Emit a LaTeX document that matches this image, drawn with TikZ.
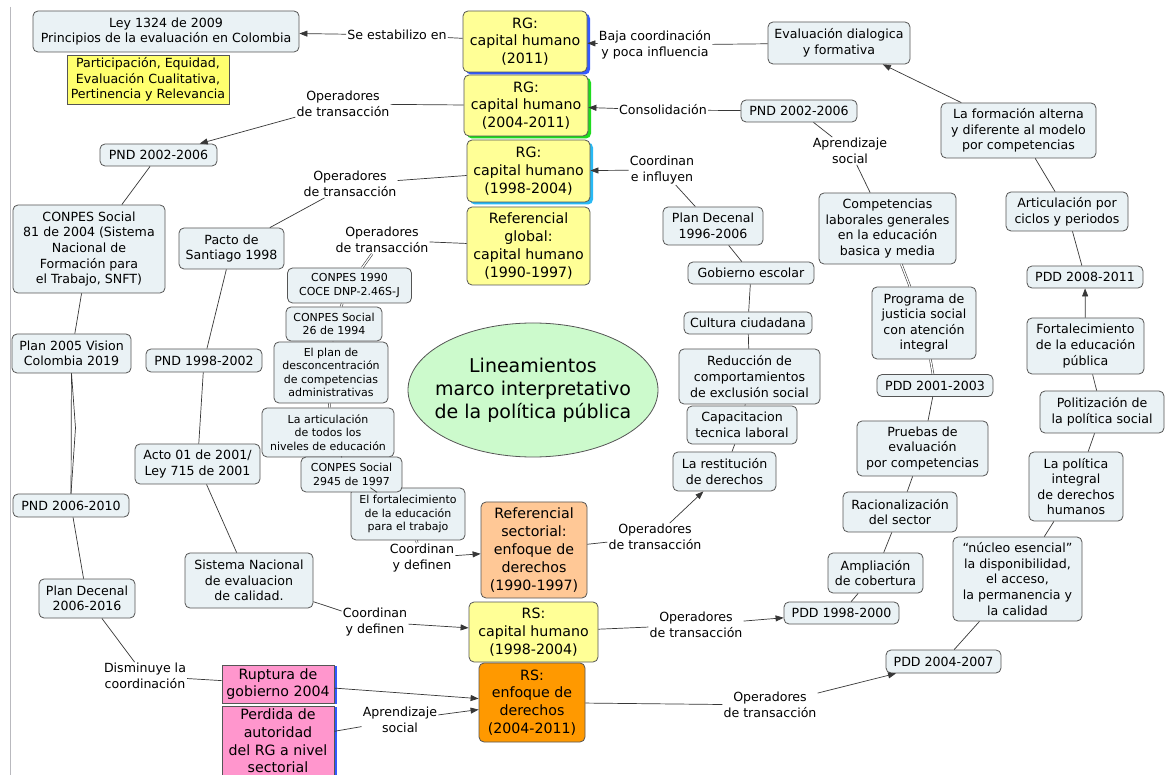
\documentclass[tikz,border=0pt]{standalone}
\usepackage{fontspec}
\setmainfont{DejaVu Sans}
\usetikzlibrary{arrows.meta,shadows,shapes.geometric}

\definecolor{nodebg}{RGB}{234,242,245}
\definecolor{edgec}{RGB}{85,85,85}
\definecolor{linec}{RGB}{55,55,55}
\definecolor{rgyellow}{RGB}{255,255,150}
\definecolor{hiyellow}{RGB}{255,255,110}
\definecolor{peach}{RGB}{255,200,150}
\definecolor{rsorange}{RGB}{255,153,0}
\definecolor{rosa}{RGB}{255,150,205}
\definecolor{mint}{RGB}{204,250,204}
\definecolor{shblue}{RGB}{50,90,255}
\definecolor{shgreen}{RGB}{30,220,30}
\definecolor{shcyan}{RGB}{40,185,245}
\definecolor{framec}{RGB}{185,185,190}

\newcommand\fnorm{\fontsize{12.6}{15.6}\selectfont}
\newcommand\fsmall{\fontsize{11}{13.4}\selectfont}
\newcommand\fbig{\fontsize{14.2}{17.8}\selectfont}
\newcommand\fhuge{\fontsize{19}{23}\selectfont}

\tikzset{
  sz/.style 2 args={minimum width=#1pt, minimum height=#2pt},
  base/.style={draw=edgec, line width=0.8pt, align=center, inner sep=1pt, text=black, font=\fnorm},
  cnode/.style={base, rounded corners=5pt, fill=nodebg},
  snode/.style={cnode, font=\fsmall},
  ynode/.style={base, rounded corners=5pt, fill=rgyellow, font=\fbig},
  lbl/.style={align=center, inner sep=1pt, text=black, font=\fnorm},
  ln/.style={draw=linec, line width=0.7pt},
  arr/.style={ln, -{Triangle[length=8pt,width=6pt]}},
  dbl/.style={ln, double=white, double distance=1.3pt, line width=0.55pt},
  shad/.style={drop shadow={shadow xshift=3pt, shadow yshift=-2.5pt, fill=#1, opacity=1}},
  sideshad/.style={drop shadow={shadow xshift=3pt, shadow yshift=-1pt, fill=#1, opacity=1}},
}

\begin{document}
\begin{tikzpicture}[x=1pt,y=-1pt]
\useasboundingbox[fill=white] (0,0) rectangle (1171,775);

% page frame on the left
\draw[framec, line width=1.6pt] (10.5,7) -- (10.5,775);

% central concept
\node[ellipse, draw=edgec, line width=0.8pt, fill=mint, minimum width=250pt, minimum height=134pt, inner sep=0pt] (lin) at (533,390) {};
\node[font=\fhuge, align=center, inner sep=0pt] (lintext) at (lin.center) {Lineamientos\\marco interpretativo\\de la política pública};

% top-left
\node[cnode, sz={266}{41}] (ley) at (166,31.5) {Ley 1324 de 2009\\Principios de la evaluación en Colombia};
\node[base, fill=hiyellow, sz={162}{49}] (princ) at (148,79.5) {Participación, Equidad,\\Evaluación Cualitativa,\\Pertinencia y Relevancia};

% global referentials
\node[ynode, shad=shblue, sz={124}{61}] (rg11) at (525,41.5) {RG:\\capital humano\\(2011)};
\node[ynode, shad=shgreen, sz={124}{61}] (rg04) at (526,105.5) {RG:\\capital humano\\(2004-2011)};
\node[ynode, shad=shcyan, sz={123}{62}] (rg98) at (528.5,171) {RG:\\capital humano\\(1998-2004)};
\node[ynode, sz={123}{78}] (rglob) at (528.5,246) {Referencial\\global:\\capital humano\\(1990-1997)};

% sectorial referentials
\node[base, rounded corners=5pt, fill=peach, font=\fbig, sz={106}{96}] (rsect) at (534,550) {Referencial\\sectorial:\\enfoque de\\derechos\\(1990-1997)};
\node[ynode, sz={129}{60}] (rs98) at (533.5,632) {RS:\\capital humano\\(1998-2004)};
\node[base, rounded corners=5pt, fill=rsorange, font=\fbig, sz={106}{79}] (rs04) at (532,702.5) {RS:\\enfoque de\\derechos\\(2004-2011)};

% right column
\node[cnode, sz={142}{42}] (eval) at (839,43) {Evaluación dialogica\\y formativa};
\node[cnode, sz={155}{55}] (form) at (1018.5,130.5) {La formación alterna\\y diferente al modelo\\por competencias};
\node[cnode, sz={122}{39}] (artic) at (1067,211.5) {Articulación por\\ciclos y periodos};
\node[cnode, sz={116}{22}] (pdd0811) at (1085,277) {PDD 2008-2011};
\node[cnode, sz={117}{56}] (fortpub) at (1085.5,346) {Fortalecimiento\\de la educación\\pública};
\node[cnode, sz={124}{42}] (politiz) at (1102,412) {Politización de\\la política social};
\node[cnode, sz={94}{69}] (polint) at (1076,486.5) {La política\\integral\\de derechos\\humanos};
\node[cnode, sz={129}{84}] (nucleo) at (1017.5,579) {“núcleo esencial”\\la disponibilidad,\\el acceso,\\la permanencia y\\la calidad};
\node[cnode, sz={115}{23}] (pdd0407) at (943.5,661.5) {PDD 2004-2007};

% second right column
\node[cnode, sz={116}{22}] (pnd0206b) at (799,111) {PND 2002-2006};
\node[cnode, sz={137}{71}] (compet) at (887.5,228.5) {Competencias\\laborales generales\\en la educación\\basica y media};
\node[cnode, sz={104}{72}] (progr) at (924,323) {Programa de\\justicia social\\con atención\\integral};
\node[cnode, sz={116}{22}] (pdd0103) at (935,385.5) {PDD 2001-2003};
\node[cnode, sz={131}{55}] (pruebas) at (922.5,448.5) {Pruebas de\\evaluación\\por competencias};
\node[cnode, sz={114}{40}] (racion) at (900,512) {Racionalización\\del sector};
\node[cnode, sz={95}{40}] (amplia) at (875.5,573) {Ampliación\\de cobertura};
\node[cnode, sz={115}{22}] (pdd9800) at (841.5,613) {PDD 1998-2000};

% middle-right column
\node[cnode, sz={100}{38}] (pdec96) at (713,226) {Plan Decenal\\1996-2006};
\node[cnode, sz={126}{22}] (gobes) at (751,273) {Gobierno escolar};
\node[cnode, sz={128}{22}] (cultura) at (748,323) {Cultura ciudadana};
\node[cnode, sz={141}{55}] (reduc) at (749.5,376.5) {Reducción de\\comportamientos\\de exclusión social};
\node[cnode, sz={110}{38}] (capac) at (742,425) {Capacitacion\\tecnica laboral};
\node[cnode, sz={103}{39}] (restit) at (724.5,471.5) {La restitución\\de derechos};

% left column
\node[cnode, sz={117}{22}] (pnd0206a) at (158.5,155) {PND 2002-2006};
\node[cnode, sz={152}{88}] (conpes81) at (89,249) {CONPES Social\\81 de 2004 (Sistema\\Nacional de\\Formación para\\el Trabajo, SNFT)};
\node[cnode, sz={119}{39}] (plan2005) at (71.5,353.5) {Plan 2005 Vision\\Colombia 2019};
\node[cnode, sz={116}{23}] (pnd0610) at (71,505.5) {PND 2006-2010};
\node[cnode, sz={96}{39}] (pdec06) at (87,598.5) {Plan Decenal\\2006-2016};
\node[base, fill=rosa, font=\fbig, sideshad=shblue, sz={112}{38}] (rupt) at (278,684) {Ruptura de\\gobierno 2004};
\node[base, fill=rosa, font=\fbig, sideshad=shblue, sz={112}{70}] (perd) at (278,741) {Perdida de\\autoridad\\del RG a nivel\\sectorial};

% second left column
\node[cnode, sz={105}{41}] (pacto) at (231.5,248.5) {Pacto de\\Santiago 1998};
\node[cnode, sz={116}{23}] (pnd9802) at (204,360.5) {PND 1998-2002};
\node[cnode, sz={125}{40}] (acto) at (197.5,464) {Acto 01 de 2001/\\Ley 715 de 2001};
\node[cnode, sz={128}{55}] (sistema) at (249,580.5) {Sistema Nacional\\de evaluacion\\de calidad.};

% stack of policy documents
\node[snode, sz={124}{35}] (conpes90) at (349.5,285.5) {CONPES 1990\\COCE DNP-2.46S-J};
\node[snode, sz={96}{34}] (conpes26) at (334,324) {CONPES Social\\26 de 1994};
\node[snode, sz={114}{61}] (plandesc) at (331,372.5) {El plan de\\desconcentración\\de competencias\\administrativas};
\node[snode, sz={132}{49}] (artniv) at (328,432.5) {La articulación\\de todos los\\niveles de educación};
\node[snode, sz={114}{52}] (forttrab) at (408,514) {El fortalecimiento\\de la educación\\para el trabajo};
\node[snode, sz={101}{35}] (conpes2945) at (351.5,474.5) {CONPES Social\\2945 de 1997};

% linking phrases
\node[lbl] (se) at (397,35) {Se estabilizo en};
\node[lbl] (baja) at (655,45) {Baja coordinación\\y poca influencia};
\node[lbl] (cons) at (663,110) {Consolidación};
\node[lbl] (coinf) at (662,170) {Coordinan\\e influyen};
\node[lbl] (apr1) at (850,151) {Aprendizaje\\social};
\node[lbl] (op1) at (343,104) {Operadores\\de transacción};
\node[lbl] (op2) at (350,184) {Operadores\\de transacción};
\node[lbl] (op6) at (382,240) {Operadores\\de transacción};
\node[lbl] (op3) at (655,537) {Operadores\\de transacción};
\node[lbl] (op4) at (696,625) {Operadores\\de transacción};
\node[lbl] (op5) at (770,705) {Operadores\\de transacción};
\node[lbl] (cyd1) at (375,622) {Coordinan\\y definen};
\node[lbl] (cyd2) at (422,558) {Coordinan\\y definen};
\node[lbl] (dism) at (145,676) {Disminuye la\\coordinación};
\node[lbl] (apr2) at (400,720) {Aprendizaje\\social};

\coordinate (bend) at (75.5,428);

% connectors
\draw[ln] (rg11) -- (se);
\draw[arr] (se) -- (ley);
\draw[ln] (eval) -- (baja);
\draw[arr] (baja) -- (rg11);
\draw[arr] (form) -- (eval);
\draw[ln] (form) -- (artic);
\draw[ln] (artic) -- (pdd0811);
\draw[arr] (fortpub) -- (pdd0811);
\draw[ln] (fortpub) -- (politiz);
\draw[ln] (politiz) -- (polint);
\draw[ln] (polint) -- (nucleo);
\draw[ln] (nucleo) -- (pdd0407);
\draw[ln] (rs04) -- (op5);
\draw[arr] (op5) -- (pdd0407);
\draw[ln] (pnd0206b) -- (cons);
\draw[arr] (cons) -- (rg04);
\draw[ln] (pnd0206b) -- (apr1);
\draw[ln] (apr1) -- (compet);
\draw[dbl] (compet) -- (progr);
\draw[dbl] (progr) -- (pdd0103);
\draw[ln] (pdd0103) -- (pruebas);
\draw[ln] (pruebas) -- (racion);
\draw[ln] (racion) -- (amplia);
\draw[ln] (amplia) -- (pdd9800);
\draw[ln] (rs98) -- (op4);
\draw[arr] (op4) -- (pdd9800);
\draw[ln] (pdec96) -- (coinf);
\draw[arr] (coinf) -- (rg98);
\draw[ln] (pdec96) -- (gobes);
\draw[ln] (gobes) -- (cultura);
\draw[ln] (cultura) -- (reduc);
\draw[ln] (reduc) -- (capac);
\draw[ln] (capac) -- (restit);
\draw[ln] (rsect) -- (op3);
\draw[arr] (op3) -- (restit);
\draw[ln] (rg04) -- (op1);
\draw[arr] (op1) -- (pnd0206a);
\draw[ln] (pnd0206a) -- (conpes81);
\draw[ln] (conpes81) -- (plan2005);
\draw[ln] (plan2005) -- (pnd0610);
\draw[ln] (plan2005.south) -- (bend) -- (pnd0610.north);
\draw[ln] (pnd0610) -- (pdec06);
\draw[ln] (pdec06) -- (dism);
\draw[ln] (dism) -- (rupt);
\draw[arr] (rupt) -- (rs04);
\draw[ln] (perd) -- (apr2);
\draw[arr] (apr2) -- (rs04);
\draw[ln] (rg98) -- (op2);
\draw[ln] (pacto) -- (op2);
\draw[ln] (pacto) -- (pnd9802);
\draw[ln] (pnd9802) -- (acto);
\draw[ln] (acto) -- (sistema);
\draw[ln] (sistema) -- (cyd1);
\draw[arr] (cyd1) -- (rs98);
\draw[ln] (rglob) -- (op6);
\draw[dbl] (op6) -- (conpes90);
\draw[dbl] (conpes90) -- (conpes26);
\draw[ln] (conpes26) -- (plandesc);
\draw[dbl] (plandesc) -- (artniv);
\draw[ln] (artniv) -- (conpes2945);
\draw[ln] (conpes2945) -- (forttrab);
\draw[dbl] (forttrab) -- (cyd2);
\draw[arr] (cyd2) -- (rsect);
\end{tikzpicture}
\end{document}
